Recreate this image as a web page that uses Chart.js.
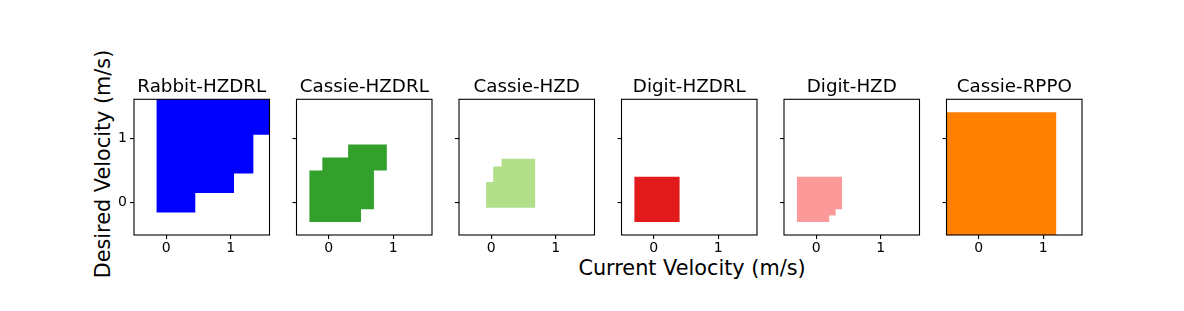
<!DOCTYPE html>
<html>
<head>
<meta charset="utf-8">
<script src="https://cdn.jsdelivr.net/npm/chart.js@4.4.0/dist/chart.umd.min.js"></script>
<style>
  body { margin: 0; background: #fff; width: 1184px; height: 311px; position: relative; overflow: hidden; font-family: 'DejaVu Sans'; }
  .panel { position: absolute; }
  .lbl { position: absolute; font-size: 20.8px; line-height: 24px; color: #000; white-space: nowrap; transform: translate(-50%, -50%); }
</style>
</head>
<body>
<div class="lbl" style="left:692px; top:267.8px;">Current Velocity (m/s)</div>
<div class="lbl" style="left:103.3px; top:164px; transform: translate(-50%, -50%) rotate(-90deg);">Desired Velocity (m/s)</div>
<script>
// panel titles
const titles = ['Rabbit-HZDRL', 'Cassie-HZDRL', 'Cassie-HZD', 'Digit-HZDRL', 'Digit-HZD', 'Cassie-RPPO'];

// stable regions, column by column: [x from, x to, y from, y to]
const rabbitHzdrl = [[-0.15, 0.45, -0.15, 1.65], [0.45, 1.05, 0.15, 1.65], [1.05, 1.35, 0.45, 1.65], [1.35, 1.65, 1.05, 1.65]];
const cassieHzdrl = [[-0.3, -0.1, -0.3, 0.5], [-0.1, 0.3, -0.3, 0.7], [0.3, 0.5, -0.3, 0.9], [0.5, 0.7, -0.1, 0.9], [0.7, 0.9, 0.5, 0.9]];
const cassieHzd = [[-0.08, 0.03, -0.08, 0.32], [0.03, 0.16, -0.08, 0.56], [0.16, 0.68, -0.08, 0.68]];
const digitHzdrl = [[-0.3, 0.4, -0.3, 0.4]];
const digitHzd = [[-0.3, 0.2, -0.3, 0.4], [0.2, 0.3, -0.2, 0.4], [0.3, 0.4, -0.1, 0.4]];
const cassieRppo = [[-0.6, 1.2, -0.6, 1.4]];
const regions = [rabbitHzdrl, cassieHzdrl, cassieHzd, digitHzdrl, digitHzd, cassieRppo];

const tickValues = [0, 1];
const axisMin = -0.5, axisMax = 1.6;
const colors = ['#0000ff', '#33a02c', '#b2df8a', '#e31a1c', '#fb9a99', '#ff7f00'];

// turn the columns into one closed outline (bottoms left->right, tops right->left)
function outline(cols) {
    const pts = [];
    cols.forEach(c => { pts.push({x: c[0], y: c[2]}, {x: c[1], y: c[2]}); });
    for (let i = cols.length - 1; i >= 0; i--) {
        const c = cols[i];
        pts.push({x: c[1], y: c[3]}, {x: c[0], y: c[3]});
    }
    return pts;
}

// box around each axes
const frame = {
    id: 'frame',
    afterDatasetsDraw(chart) {
        const a = chart.chartArea, c = chart.ctx;
        c.save();
        c.strokeStyle = '#000';
        c.lineWidth = 1.1;
        c.strokeRect(a.left, a.top, a.right - a.left, a.bottom - a.top);
        c.restore();
    }
};

const tickFont = {family: 'DejaVu Sans', size: 14};
const pw = 135.5, ph = 135.7, boxTop = 99.3;
const W = 200, H = 220, T = 55;

titles.forEach((title, i) => {
    const panelLeft = 134 + 162.5 * i;
    const L = Math.floor(panelLeft) - 45;
    const yw = panelLeft - L;
    const div = document.createElement('div');
    div.className = 'panel';
    div.style.left = L + 'px';
    div.style.top = T + 'px';
    div.style.width = W + 'px';
    div.style.height = H + 'px';
    const cv = document.createElement('canvas');
    cv.width = W; cv.height = H;
    div.appendChild(cv);
    document.body.appendChild(div);

    const lineH = 18.3 * 1.2;
    const padBottom = 12 - lineH / 2;
    const padTop = (boxTop - T) - lineH - padBottom;

    new Chart(cv.getContext('2d'), {
        type: 'line',
        data: {
            datasets: [{
                data: outline(regions[i]),
                backgroundColor: colors[i],
                borderColor: 'rgba(0,0,0,0)',
                borderWidth: 0,
                pointRadius: 0,
                fill: 'shape',
                tension: 0
            }]
        },
        options: {
            responsive: false,
            animation: false,
            events: [],
            layout: {padding: {left: 0, top: 0, right: W - yw - pw, bottom: 0}},
            plugins: {
                legend: {display: false},
                tooltip: {enabled: false},
                title: {
                    display: true,
                    fullSize: false,
                    text: title,
                    color: '#000',
                    font: {family: 'DejaVu Sans', size: 18.3, weight: 'normal', lineHeight: 1.2},
                    padding: {top: padTop, bottom: padBottom}
                }
            },
            scales: {
                x: {
                    type: 'linear',
                    min: axisMin, max: axisMax,
                    afterBuildTicks: s => { s.ticks = tickValues.map(v => ({value: v})); },
                    afterFit: s => { s.height = H - (boxTop - T) - ph; },
                    grid: {drawOnChartArea: false, drawTicks: true, tickLength: 4, color: '#000', lineWidth: 1.1},
                    border: {display: false},
                    ticks: {font: tickFont, color: '#000', padding: 1, maxRotation: 0, autoSkip: false}
                },
                y: {
                    type: 'linear',
                    min: axisMin, max: axisMax,
                    afterBuildTicks: s => { s.ticks = tickValues.map(v => ({value: v})); },
                    afterFit: s => { s.width = yw; },
                    grid: {drawOnChartArea: false, drawTicks: true, tickLength: 4, color: '#000', lineWidth: 1.1},
                    border: {display: false},
                    ticks: {
                        font: tickFont, color: '#000', padding: 3, autoSkip: false,
                        callback: v => (i === 0 ? String(v) : '')
                    }
                }
            }
        },
        plugins: [frame]
    });
});
</script>
</body>
</html>
